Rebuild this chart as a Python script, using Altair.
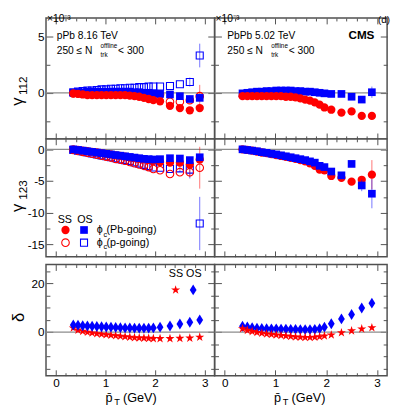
import altair as alt
import pandas as pd

FONT = "Liberation Sans"
RED = "#ff0000"
BLUE = "#0000ff"
FRAME = "#505050"
ZERO = "#8c8c8c"

# ---------------- data ----------------
PT = [0.35, 0.445, 0.54, 0.635, 0.73, 0.825, 0.92, 1.015, 1.11, 1.205, 1.30, 1.395,
      1.49, 1.585, 1.68, 1.775, 1.87, 1.965, 2.1, 2.3, 2.5, 2.7, 2.9]

# gamma_112 (x1e-3), pPb 8.16 TeV
G112_PPB_SS_PB = [-0.05, -0.1, -0.15, -0.2, -0.2, -0.2, -0.2, -0.2, -0.2, -0.2, -0.2, -0.2,
                  -0.25, -0.3, -0.35, -0.45, -0.55, -0.65, -0.75, -1.15, -1.35, -1.55, -1.35]
G112_PPB_OS_PB = [0.0, 0.05, 0.05, 0.1, 0.1, 0.1, 0.1, 0.1, 0.1, 0.1, 0.1, 0.1,
                  0.1, 0.05, 0.05, 0.0, 0.0, -0.05, -0.1, -0.15, -0.3, -0.55, -0.45]
G112_PPB_SS_P = [-0.05, -0.05, -0.05, 0.0, 0.0, 0.0, 0.0, 0.0, 0.0, 0.0, 0.0, 0.0,
                 0.0, -0.05, -0.05, -0.1, -0.1, -0.15, -0.15, -0.8, -0.8, -0.65, -0.3]
G112_PPB_OS_P = [0.05, 0.1, 0.15, 0.2, 0.2, 0.25, 0.3, 0.3, 0.35, 0.35, 0.4, 0.4,
                 0.45, 0.45, 0.5, 0.5, 0.55, 0.55, 0.55, 0.6, 0.75, 0.95, 3.3]
G112_PPB_SS_P_EX, G112_PPB_SS_P_EV = [2.9], [1.0]
G112_PPB_OS_P_EX, G112_PPB_OS_P_EV = [2.7, 2.9], [0.4, 1.05]

# gamma_112 (x1e-3), PbPb 5.02 TeV
G112_PBPB_SS = [-0.3, -0.3, -0.3, -0.3, -0.3, -0.3, -0.3, -0.3, -0.3, -0.35, -0.35, -0.4,
                -0.5, -0.6, -0.7, -0.85, -1.05, -1.3, -1.5, -1.75, -1.65, -2.05, -2.05]
G112_PBPB_OS = [-0.05, 0.0, 0.05, 0.1, 0.1, 0.15, 0.15, 0.2, 0.2, 0.2, 0.2, 0.15,
                0.15, 0.1, 0.1, 0.05, 0.0, -0.05, -0.1, -0.1, -0.35, -0.6, 0.05]
G112_PBPB_SS_EX, G112_PBPB_SS_EV = [2.9], [0.35]
G112_PBPB_OS_EX, G112_PBPB_OS_EV = [2.9], [0.5]

# gamma_123 (x1e-3), pPb 8.16 TeV
G123_PPB_SS_PB = [0.0, -0.1, -0.2, -0.3, -0.4, -0.5, -0.6, -0.7, -0.8, -0.95, -1.05, -1.15,
                  -1.3, -1.4, -1.5, -1.6, -1.7, -1.8, -2.0, -2.1, -2.1, -2.4, -1.6]
G123_PPB_OS_PB = [0.0, -0.1, -0.2, -0.3, -0.4, -0.5, -0.6, -0.7, -0.8, -0.9, -1.0, -1.1,
                  -1.2, -1.3, -1.4, -1.5, -1.55, -1.6, -1.55, -1.4, -1.45, -1.7, -1.25]
G123_PPB_SS_P = [-0.1, -0.25, -0.4, -0.55, -0.7, -0.85, -1.0, -1.15, -1.3, -1.5, -1.65, -1.8,
                 -2.0, -2.2, -2.4, -2.6, -2.8, -3.1, -3.3, -3.9, -3.6, -3.6, -2.9]
G123_PPB_OS_P = [-0.1, -0.2, -0.35, -0.5, -0.65, -0.8, -0.95, -1.1, -1.25, -1.4, -1.55, -1.7,
                 -1.85, -2.05, -2.25, -2.45, -2.65, -2.85, -2.9, -3.1, -3.0, -3.2, -11.7]
G123_PPB_SS_P_EX, G123_PPB_SS_P_EV = [2.7, 2.9], [0.8, 3.3]
G123_PPB_OS_P_EX, G123_PPB_OS_P_EV = [2.5, 2.7, 2.9], [0.6, 1.4, 4.2]

# gamma_123 (x1e-3), PbPb 5.02 TeV
G123_PBPB_SS = [0.0, -0.1, -0.2, -0.35, -0.5, -0.6, -0.75, -0.9, -1.05, -1.2, -1.35, -1.5,
                -1.7, -1.9, -2.2, -2.6, -3.2, -3.3, -4.2, -4.5, -5.1, -4.8, -4.0]
G123_PBPB_OS = [0.0, -0.1, -0.2, -0.3, -0.45, -0.55, -0.7, -0.8, -0.95, -1.1, -1.25, -1.4,
                -1.55, -1.7, -1.9, -2.1, -2.6, -2.8, -3.5, -4.1, -2.3, -5.7, -7.0]
G123_PBPB_SS_EX, G123_PBPB_SS_EV = [2.7, 2.9], [0.6, 2.3]
G123_PBPB_OS_EX, G123_PBPB_OS_EV = [2.7, 2.9], [0.9, 2.3]

# delta, pPb 8.16 TeV
D_PPB_SS = [1.7, 0.8, 0.3, -0.1, -0.4, -0.7, -0.9, -1.1, -1.3, -1.5, -1.7, -1.9,
            -2.1, -2.3, -2.4, -2.5, -2.6, -2.7, -2.7, -2.7, -2.6, -2.5, -2.1]
D_PPB_OS = [2.9, 2.8, 2.6, 2.5, 2.4, 2.3, 2.2, 2.1, 2.0, 1.9, 1.8, 1.7,
            1.7, 1.6, 1.6, 1.6, 1.6, 1.7, 2.0, 2.5, 3.3, 4.0, 5.0]

# delta, PbPb 5.02 TeV
D_PBPB_SS = [1.4, 0.7, 0.2, -0.2, -0.5, -0.8, -1.0, -1.2, -1.4, -1.6, -1.8, -2.0,
             -2.1, -2.2, -2.2, -2.1, -1.9, -1.6, -1.2, -0.3, 0.5, 1.3, 1.8]
D_PBPB_OS = [2.4, 2.1, 1.8, 1.6, 1.5, 1.4, 1.3, 1.3, 1.2, 1.2, 1.1, 1.1,
             1.0, 1.0, 1.0, 1.1, 1.4, 2.0, 3.4, 5.4, 7.2, 9.9, 11.9]

X_DOMAIN = [-0.2, 3.2]
X_MAJOR = [0, 1, 2, 3]
X_MINOR = [0.2, 0.4, 0.6, 0.8, 1.2, 1.4, 1.6, 1.8, 2.2, 2.4, 2.6, 2.8]

Y1_DOMAIN = [-4.08, 6.62]
Y1_MAJOR = [0, 5]
Y1_MINOR = [-2.5, 2.5]
Y2_DOMAIN = [-16.95, 1.65]
Y2_MAJOR = [-15, -10, -5, 0]
Y2_MINOR = [-12.5, -7.5, -2.5]
Y3_DOMAIN = [-18, 27.8]
Y3_MAJOR = [0, 20]
Y3_MINOR = [-15, -10, -5, 5, 10, 15, 25]

# ---------------- layout ----------------
W_L, W_R = 173, 177
H1, H2, H3 = 124, 121, 114
TY_MAJ, TY_MIN = 7, 4
TX_MAJ, TX_MIN = 6, 3
LEFT_EXT = 35
GAP = 8

# marker sizes (area, px^2)
S_FC, S_FS, S_OC, S_OS = 72, 62, 60, 52
S_STAR, S_DIAM = 95, 125

STAR = ("M0,-1L0.225,-0.309L0.951,-0.309L0.363,0.118L0.588,0.809L0,0.382"
        "L-0.588,0.809L-0.363,0.118L-0.951,-0.309L-0.225,-0.309Z")
DIAM = "M0,-1L0.62,0L0,1L-0.62,0Z"

ONE = pd.DataFrame({"k": [0]})


def xs():
    return alt.Scale(domain=X_DOMAIN, nice=False, zero=False)


def ys(d):
    return alt.Scale(domain=d, nice=False, zero=False)


def ax(orient, values, size, labels=False, ext=None):
    kw = dict(orient=orient, values=values, tickSize=size, offset=-size, labels=labels,
              domain=False, grid=False, title=None, tickColor=FRAME, tickWidth=1)
    if labels:
        kw["labelExpr"] = "'' + datum.value"
    if ext is not None:
        kw["minExtent"] = ext
        kw["maxExtent"] = ext
    return alt.Axis(**kw)


def series(vals, color, shape, filled, size, ydom, ex=None, ev=None):
    out = []
    if ex:
        look = dict(zip(PT, vals))
        edf = pd.DataFrame({"pt": ex,
                            "lo": [look[x] - e for x, e in zip(ex, ev)],
                            "hi": [look[x] + e for x, e in zip(ex, ev)]})
        out.append(alt.Chart(edf).mark_rule(color=color, strokeWidth=1, opacity=0.55).encode(
            x=alt.X("pt:Q", scale=xs(), axis=None),
            y=alt.Y("lo:Q", scale=ys(ydom), axis=None),
            y2="hi:Q"))
    df = pd.DataFrame({"pt": PT, "v": vals})
    if filled:
        m = alt.Chart(df).mark_point(shape=shape, size=size, filled=True, color=color,
                                     opacity=1, strokeWidth=0)
    else:
        m = alt.Chart(df).mark_point(shape=shape, size=size, filled=False, color=color,
                                     opacity=1, strokeWidth=1.1)
    out.append(m.encode(x=alt.X("pt:Q", scale=xs(), axis=None),
                        y=alt.Y("v:Q", scale=ys(ydom), axis=None)))
    return out


def txt(s, x, y, size=11, align="left", weight="normal", angle=0):
    return alt.Chart(ONE).mark_text(text=s, fontSize=size, align=align, baseline="alphabetic",
                                    font=FONT, fontWeight=weight, angle=angle,
                                    color="black").encode(x=alt.value(x), y=alt.value(y))


def sym(shape, color, filled, size, x, y):
    if filled:
        m = alt.Chart(ONE).mark_point(shape=shape, size=size, filled=True, color=color,
                                      opacity=1, strokeWidth=0)
    else:
        m = alt.Chart(ONE).mark_point(shape=shape, size=size, filled=False, color=color,
                                      opacity=1, strokeWidth=1.1)
    return m.encode(x=alt.value(x), y=alt.value(y))


def panel(width, height, ydom, ymaj, ymin, first_vals, left_labels, bottom_labels,
          layers, texts):
    adf = pd.DataFrame({"pt": PT, "v": first_vals})
    base = alt.Chart(adf).mark_point(opacity=0)

    def axl(yax, xax):
        return base.encode(x=alt.X("pt:Q", scale=xs(), axis=xax),
                           y=alt.Y("v:Q", scale=ys(ydom), axis=yax))

    a1 = axl(ax("left", ymaj, TY_MAJ, labels=left_labels,
                ext=(LEFT_EXT + TY_MAJ) if left_labels else 0),
             ax("bottom", X_MAJOR, TX_MAJ, labels=bottom_labels,
                ext=None if bottom_labels else 0))
    a2 = axl(ax("right", ymaj, TY_MAJ, ext=0), ax("top", X_MAJOR, TX_MAJ, ext=0))
    a3 = axl(ax("left", ymin, TY_MIN, ext=0), ax("bottom", X_MINOR, TX_MIN, ext=0))
    a4 = axl(ax("right", ymin, TY_MIN, ext=0), ax("top", X_MINOR, TX_MIN, ext=0))
    zero = alt.Chart(ONE).mark_rule(color=ZERO, strokeWidth=1.3).encode(
        y=alt.Y(datum=0, scale=ys(ydom), axis=None))
    return alt.layer(zero, *layers, *texts, a1, a2, a3, a4).properties(
        width=width, height=height).resolve_axis(x="independent", y="independent")


def spacer(width):
    return alt.Chart(ONE).mark_point(opacity=0).encode(
        x=alt.value(0), y=alt.value(0)).properties(
        width=width, height=GAP, view=alt.ViewBackground(stroke="transparent"))


def nline(x, y, size=10.5):
    return [txt("250 \u2264 N", x, y, size), txt("offline", x + 45, y - 6, 6.5),
            txt("trk", x + 45, y + 2.5, 6.5), txt("< 300", x + 63, y, size)]


# ---------------- panels ----------------
p11 = panel(
    W_L, H1, Y1_DOMAIN, Y1_MAJOR, Y1_MINOR, G112_PPB_SS_PB, True, False,
    series(G112_PPB_OS_P, BLUE, "square", False, S_OS, Y1_DOMAIN, G112_PPB_OS_P_EX, G112_PPB_OS_P_EV)
    + series(G112_PPB_SS_P, RED, "circle", False, S_OC, Y1_DOMAIN, G112_PPB_SS_P_EX, G112_PPB_SS_P_EV)
    + series(G112_PPB_OS_PB, BLUE, "square", True, S_FS, Y1_DOMAIN)
    + series(G112_PPB_SS_PB, RED, "circle", True, S_FC, Y1_DOMAIN),
    [txt("\u00d710\u207b\u00b3", 1, 4.5, 10.5), txt("pPb 8.16 TeV", 11, 22, 10.5)]
    + nline(11, 37)
    + [txt("\u03b3", -24, 90, 17, angle=270), txt("112", -19, 79, 12, angle=270)])

p12 = panel(
    W_R, H1, Y1_DOMAIN, Y1_MAJOR, Y1_MINOR, G112_PBPB_SS, False, False,
    series(G112_PBPB_OS, BLUE, "square", True, S_FS, Y1_DOMAIN, G112_PBPB_OS_EX, G112_PBPB_OS_EV)
    + series(G112_PBPB_SS, RED, "circle", True, S_FC, Y1_DOMAIN, G112_PBPB_SS_EX, G112_PBPB_SS_EV),
    [txt("\u00d710\u207b\u00b3", 1, 4.5, 10.5), txt("PbPb 5.02 TeV", 13, 22, 10.5),
     txt("CMS", W_R - 13, 22, 12, align="right", weight="bold"),
     txt("(d)", W_R + 3, 5, 10, align="right")]
    + nline(13, 37))

p21 = panel(
    W_L, H2, Y2_DOMAIN, Y2_MAJOR, Y2_MINOR, G123_PPB_SS_PB, True, False,
    series(G123_PPB_OS_P, BLUE, "square", False, S_OS, Y2_DOMAIN, G123_PPB_OS_P_EX, G123_PPB_OS_P_EV)
    + series(G123_PPB_SS_P, RED, "circle", False, S_OC, Y2_DOMAIN, G123_PPB_SS_P_EX, G123_PPB_SS_P_EV)
    + series(G123_PPB_SS_PB, RED, "circle", True, S_FC, Y2_DOMAIN)
    + series(G123_PPB_OS_PB, BLUE, "square", True, S_FS, Y2_DOMAIN),
    [txt("SS", 12, 86.5, 11), txt("OS", 32, 86.5, 11),
     sym("circle", RED, True, S_FC, 20, 93.5), sym("square", BLUE, True, S_FS, 39, 93.5),
     sym("circle", RED, False, S_OC, 20, 106.5), sym("square", BLUE, False, S_OS, 39, 106.5),
     txt("\u03d5", 52, 97, 11), txt("c", 59, 100.5, 7.5), txt("(Pb-going)", 62, 97, 11),
     txt("\u03d5", 52, 110, 11), txt("c", 59, 113.5, 7.5), txt("(p-going)", 62, 110, 11),
     txt("\u03b3", -24, 75, 17, angle=270), txt("123", -19, 62.5, 12, angle=270)])

p22 = panel(
    W_R, H2, Y2_DOMAIN, Y2_MAJOR, Y2_MINOR, G123_PBPB_SS, False, False,
    series(G123_PBPB_SS, RED, "circle", True, S_FC, Y2_DOMAIN, G123_PBPB_SS_EX, G123_PBPB_SS_EV)
    + series(G123_PBPB_OS, BLUE, "square", True, S_FS, Y2_DOMAIN, G123_PBPB_OS_EX, G123_PBPB_OS_EV),
    [])

xtitle = [txt("p\u0304", 61, H3 + 27, 13), txt("T", 70, H3 + 30.5, 9.5),
          txt("(GeV)", 79, H3 + 27, 13)]

p31 = panel(
    W_L, H3, Y3_DOMAIN, Y3_MAJOR, Y3_MINOR, D_PPB_SS, True, True,
    series(D_PPB_SS, RED, STAR, True, S_STAR, Y3_DOMAIN)
    + series(D_PPB_OS, BLUE, DIAM, True, S_DIAM, Y3_DOMAIN),
    [txt("SS OS", 126, 13, 11), sym(STAR, RED, True, S_STAR, 133, 26),
     sym(DIAM, BLUE, True, S_DIAM, 151, 26),
     txt("\u03b4", -23, 59, 17, angle=270)] + xtitle)

p32 = panel(
    W_R, H3, Y3_DOMAIN, Y3_MAJOR, Y3_MINOR, D_PBPB_SS, False, True,
    series(D_PBPB_OS, BLUE, DIAM, True, S_DIAM, Y3_DOMAIN)
    + series(D_PBPB_SS, RED, STAR, True, S_STAR, Y3_DOMAIN),
    xtitle)

chart = alt.concat(p11, p12, p21, p22, spacer(W_L), spacer(W_R), p31, p32,
                   columns=2, spacing=0, bounds="flush", align="each").properties(
    padding=0
).configure_view(stroke=FRAME, strokeWidth=1.5).configure_axis(
    labelFont=FONT, labelFontSize=12, labelColor="black", labelPadding=2, grid=False
).configure_text(font=FONT)

chart.save("out.html", embed_options={"renderer": "svg", "actions": False})
